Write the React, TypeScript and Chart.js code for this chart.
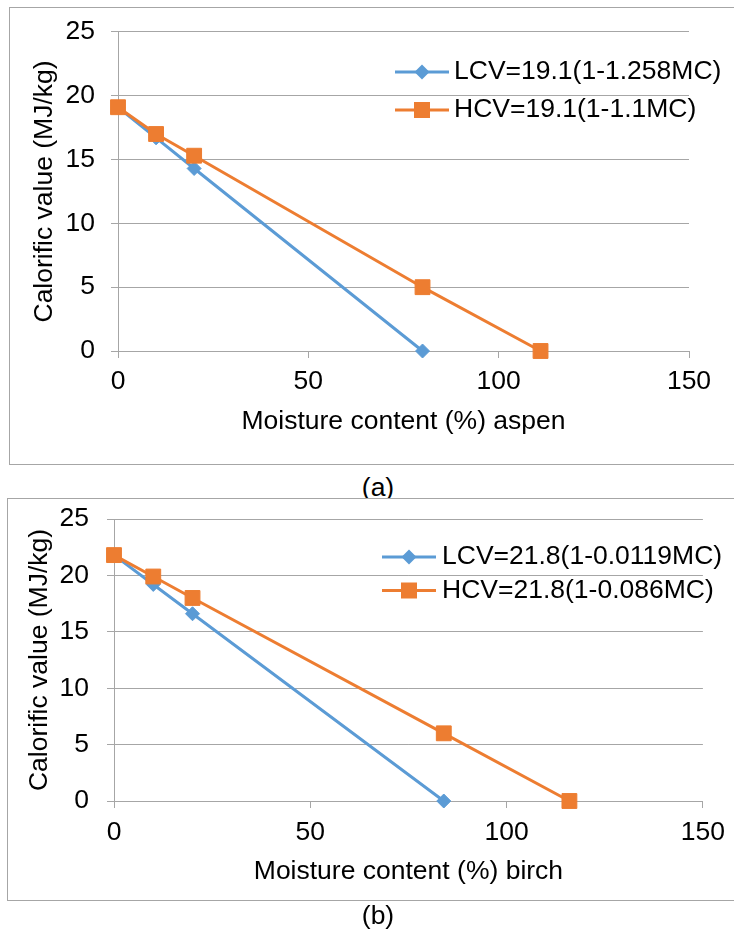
import React, { useEffect, useRef } from "react";
import { Chart, registerables } from "chart.js";

Chart.register(...registerables);
Chart.defaults.font.family = '"Liberation Sans", Arial, sans-serif';

// ---------------- data ----------------
const xTicks = [0, 50, 100, 150];
const yTicks = [0, 5, 10, 15, 20, 25];

const aspenLcvMC = [0, 10, 20, 80];
const aspenLcv = [19.1, 16.7, 14.3, 0];
const aspenHcvMC = [0, 10, 20, 80, 111];
const aspenHcv = [19.1, 17.0, 15.3, 5.0, 0];

const birchLcvMC = [0, 10, 20, 84];
const birchLcv = [21.8, 19.2, 16.6, 0];
const birchHcvMC = [0, 10, 20, 84, 116];
const birchHcv = [21.8, 19.9, 18.0, 6.0, 0];

const aspenLabels = ["LCV=19.1(1-1.258MC)", "HCV=19.1(1-1.1MC)"];
const birchLabels = ["LCV=21.8(1-0.0119MC)", "HCV=21.8(1-0.086MC)"];
const xTitles = ["Moisture content (%) aspen", "Moisture content (%) birch"];
const yTitle = "Calorific value (MJ/kg)";
const captions = ["(a)", "(b)"];

// ---------------- styles ----------------
const BLUE = "#5B9BD5";
const ORANGE = "#ED7D31";
const GRID = "#a6a6a6";
const TEXT = "#000000";
const FONT = 26.5;

const legendPlugin = {
  id: "customLegend",
  afterDatasetsDraw(chart: any, _args: any, opts: any) {
    const { ctx } = chart;
    const { lineX0, lineX1, textX, rows } = opts;
    const markerX = (lineX0 + lineX1) / 2;
    [0, 1].forEach((i) => {
      const ds = chart.data.datasets[i];
      const y = rows[i];
      ctx.save();
      ctx.strokeStyle = ds.borderColor;
      ctx.lineWidth = 3;
      ctx.beginPath();
      ctx.moveTo(lineX0, y);
      ctx.lineTo(lineX1, y);
      ctx.stroke();
      ctx.fillStyle = ds.borderColor;
      ctx.beginPath();
      if (ds.pointStyle === "rectRot") {
        const r = 7.5;
        ctx.moveTo(markerX, y - r);
        ctx.lineTo(markerX + r, y);
        ctx.lineTo(markerX, y + r);
        ctx.lineTo(markerX - r, y);
        ctx.closePath();
      } else {
        const h = 8;
        ctx.rect(markerX - h, y - h, 2 * h, 2 * h);
      }
      ctx.fill();
      ctx.fillStyle = TEXT;
      ctx.font = `${FONT}px "Liberation Sans", Arial, sans-serif`;
      ctx.textBaseline = "middle";
      ctx.textAlign = "left";
      ctx.fillText(ds.label, textX, y);
      ctx.restore();
    });
  },
};

type PanelCfg = {
  top: number;
  height: number;
  lcvX: number[];
  lcvY: number[];
  hcvX: number[];
  hcvY: number[];
  labels: string[];
  xTitle: string;
  yAxisWidth: number;
  xAxisHeight: number;
  padTop: number;
  padRight: number;
  yTickPad: number;
  xTickPad: number;
  yTitlePad: number;
  xTitlePad: number;
  legend: { lineX0: number; lineX1: number; textX: number; rows: number[] };
};

function Panel({ cfg }: { cfg: PanelCfg }) {
  const ref = useRef<HTMLCanvasElement | null>(null);
  useEffect(() => {
    if (!ref.current) return;
    const chart = new Chart(ref.current, {
      type: "line",
      data: {
        datasets: [
          {
            label: cfg.labels[0],
            data: cfg.lcvX.map((x, i) => ({ x, y: cfg.lcvY[i] })),
            borderColor: BLUE,
            backgroundColor: BLUE,
            borderWidth: 3,
            pointStyle: "rectRot",
            pointRadius: 7,
            pointBorderWidth: 1,
            pointBackgroundColor: BLUE,
            pointBorderColor: BLUE,
            tension: 0,
            fill: false,
            clip: false,
            order: 1,
          } as any,
          {
            label: cfg.labels[1],
            data: cfg.hcvX.map((x, i) => ({ x, y: cfg.hcvY[i] })),
            borderColor: ORANGE,
            backgroundColor: ORANGE,
            borderWidth: 3,
            pointStyle: "rect",
            pointRadius: 10.5,
            pointBorderWidth: 1,
            pointBackgroundColor: ORANGE,
            pointBorderColor: ORANGE,
            tension: 0,
            fill: false,
            clip: false,
            order: 0,
          } as any,
        ],
      },
      options: {
        responsive: false,
        animation: false,
        layout: { padding: { top: cfg.padTop, right: cfg.padRight, left: 0, bottom: 0 } },
        plugins: {
          legend: { display: false },
          tooltip: { enabled: false },
          customLegend: cfg.legend,
        } as any,
        scales: {
          x: {
            type: "linear",
            min: 0,
            max: 150,
            afterBuildTicks: (s: any) => {
              s.ticks = xTicks.map((v) => ({ value: v }));
            },
            afterFit: (s: any) => {
              s.height = cfg.xAxisHeight;
            },
            ticks: { color: TEXT, font: { size: FONT }, padding: cfg.xTickPad, maxRotation: 0 },
            title: {
              display: true,
              text: cfg.xTitle,
              color: TEXT,
              font: { size: FONT },
              padding: { top: 0, bottom: cfg.xTitlePad },
            },
            grid: { drawOnChartArea: false, drawTicks: true, tickLength: 7, color: GRID, lineWidth: 1 },
            border: { display: true, color: GRID, width: 1 },
          },
          y: {
            type: "linear",
            min: 0,
            max: 25,
            afterBuildTicks: (s: any) => {
              s.ticks = yTicks.map((v) => ({ value: v }));
            },
            afterFit: (s: any) => {
              s.width = cfg.yAxisWidth;
            },
            ticks: { color: TEXT, font: { size: FONT }, padding: cfg.yTickPad },
            title: {
              display: true,
              text: yTitle,
              color: TEXT,
              font: { size: FONT },
              padding: { top: cfg.yTitlePad, bottom: 0 },
            },
            grid: { drawOnChartArea: true, drawTicks: true, tickLength: 7, color: GRID, lineWidth: 1 },
            border: { display: true, color: GRID, width: 1 },
          },
        },
      } as any,
      plugins: [legendPlugin as any],
    });
    return () => chart.destroy();
  }, [cfg]);
  return (
    <canvas
      ref={ref}
      width={734}
      height={cfg.height}
      style={{ position: "absolute", left: 0, top: cfg.top, width: 734, height: cfg.height }}
    />
  );
}

const panelA: PanelCfg = {
  top: 0,
  height: 470,
  lcvX: aspenLcvMC,
  lcvY: aspenLcv,
  hcvX: aspenHcvMC,
  hcvY: aspenHcv,
  labels: aspenLabels,
  xTitle: xTitles[0],
  yAxisWidth: 118,
  xAxisHeight: 119,
  padTop: 31,
  padRight: 45,
  yTickPad: 16,
  xTickPad: 8,
  yTitlePad: 29,
  xTitlePad: 32.5,
  legend: { lineX0: 395, lineX1: 449, textX: 454, rows: [72, 110] },
};

const panelB: PanelCfg = {
  top: 470,
  height: 440,
  lcvX: birchLcvMC,
  lcvY: birchLcv,
  hcvX: birchHcvMC,
  hcvY: birchHcv,
  labels: birchLabels,
  xTitle: xTitles[1],
  yAxisWidth: 114,
  xAxisHeight: 109,
  padTop: 49,
  padRight: 25,
  yTickPad: 18,
  xTickPad: 9,
  yTitlePad: 24,
  xTitlePad: 22.5,
  legend: { lineX0: 382, lineX1: 436, textX: 442, rows: [87, 120.5] },
};

export default function App() {
  const captionStyle = (top: number): React.CSSProperties => ({
    position: "absolute",
    left: 378,
    top,
    transform: "translateX(-50%)",
    fontFamily: '"Liberation Sans", Arial, sans-serif',
    fontSize: FONT,
    lineHeight: `${FONT}px`,
    color: TEXT,
    whiteSpace: "nowrap",
  });
  return (
    <div
      style={{
        position: "absolute",
        left: 0,
        top: 0,
        width: 734,
        height: 932,
        overflow: "hidden",
        background: "#fff",
      }}
    >
      <div
        style={{
          position: "absolute",
          left: 9,
          top: 7,
          width: 800,
          height: 458,
          boxSizing: "border-box",
          border: `1px solid ${GRID}`,
        }}
      />
      <Panel cfg={panelA} />
      <div style={captionStyle(474)}>{captions[0]}</div>
      <div
        style={{
          position: "absolute",
          left: 7,
          top: 498,
          width: 800,
          height: 403,
          boxSizing: "border-box",
          border: `1px solid ${GRID}`,
          background: "#fff",
        }}
      />
      <Panel cfg={panelB} />
      <div style={captionStyle(902)}>{captions[1]}</div>
    </div>
  );
}
